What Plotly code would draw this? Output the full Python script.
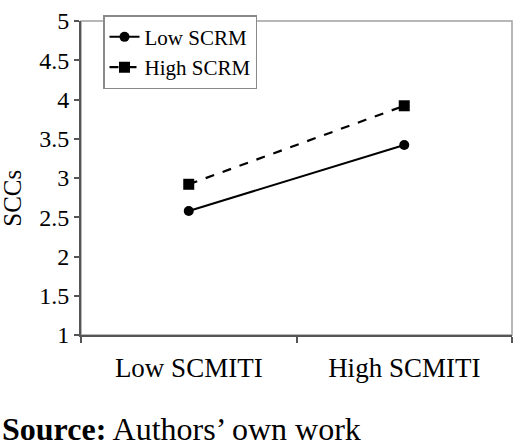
import plotly.graph_objects as go

categories = ["Low SCMITI", "High SCMITI"]
low_scrm = [2.58, 3.42]
high_scrm = [2.92, 3.92]
y_ticks = [1, 1.5, 2, 2.5, 3, 3.5, 4, 4.5, 5]
y_tick_text = ["1", "1.5", "2", "2.5", "3", "3.5", "4", "4.5", "5"]

FONT = "Liberation Serif"
W, H = 520, 448
L, R, T, B = 81, 8, 10, 113
PW, PH = W - L - R, H - T - B

fig = go.Figure()
fig.add_trace(go.Scatter(
    x=categories, y=low_scrm, name="Low SCRM", mode="lines+markers",
    line=dict(color="black", width=2),
    marker=dict(symbol="circle", size=10, color="black"),
))
fig.add_trace(go.Scatter(
    x=categories, y=high_scrm, name="High SCRM", mode="lines+markers",
    line=dict(color="black", width=2.2, dash="dash"),
    marker=dict(symbol="square", size=11, color="black"),
))

# grey plot-area border
fig.add_shape(type="rect", xref="paper", yref="paper", x0=0, x1=1, y0=0, y1=1,
              line=dict(color="#a0a0a0", width=1.5), layer="below")

fig.update_layout(
    width=W, height=H,
    margin=dict(l=L, r=R, t=T, b=B),
    paper_bgcolor="white", plot_bgcolor="white",
    font=dict(family=FONT, color="black"),
    showlegend=True,
    legend=dict(
        x=(103 - L) / PW, y=(H - B - 4) / PH,
        xanchor="left", yanchor="top",
        bordercolor="#8a8a8a", borderwidth=1.5, bgcolor="white",
        font=dict(family=FONT, size=21, color="black"),
    ),
    xaxis=dict(
        type="category", range=[-0.5, 1.5],
        showline=True, linecolor="#555555", linewidth=2,
        ticks="outside", tickson="boundaries", ticklen=6, tickcolor="#555555", tickwidth=1.5,
        tickfont=dict(family=FONT, size=27, color="black"),
        ticklabelstandoff=8,
        showgrid=False, zeroline=False,
    ),
    yaxis=dict(
        range=[1, 5],
        tickvals=y_ticks, ticktext=y_tick_text,
        showline=True, linecolor="#555555", linewidth=2,
        ticks="outside", ticklen=5, tickcolor="#555555", tickwidth=1.5,
        tickfont=dict(family=FONT, size=24, color="black"),
        ticklabeloverflow="allow",
        showgrid=False, zeroline=False,
    ),
    annotations=[
        dict(text="SCCs", textangle=-90, xref="paper", yref="paper",
             x=-(L - 13) / PW, y=(H - B - 194) / PH,
             xanchor="center", yanchor="middle", showarrow=False,
             font=dict(family=FONT, size=25, color="black")),
        dict(text="<b>Source:</b> Authors\u2019 own work", xref="paper", yref="paper",
             x=-(L - 0) / PW, y=-(432 - (H - B)) / PH,
             xanchor="left", yanchor="middle", showarrow=False,
             font=dict(family=FONT, size=32, color="black")),
    ],
)

fig.write_html("out.html")
